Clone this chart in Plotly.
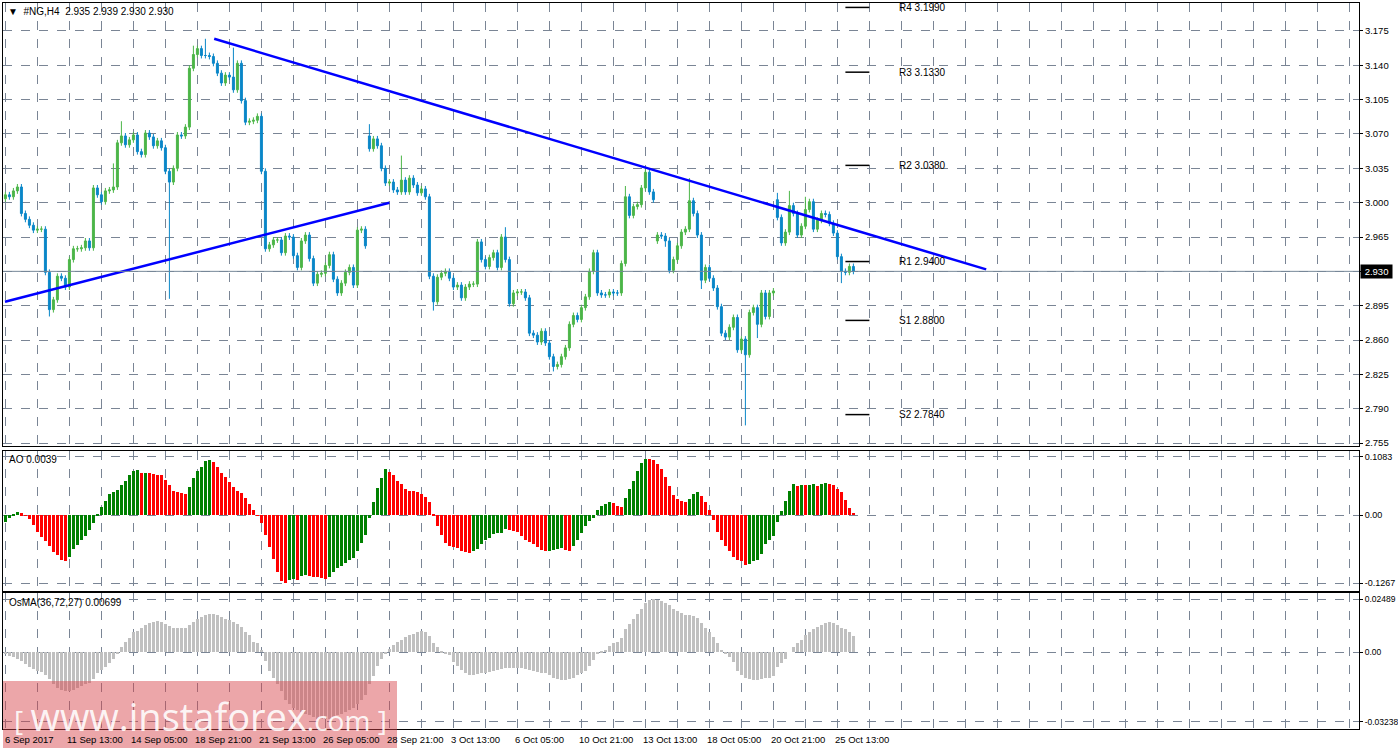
import plotly.graph_objects as go

# ---------------- data ----------------
close = [
3.008,3.006,3.012,3.016,2.989,2.983,2.977,2.972,2.973,2.973,
2.929,2.891,2.901,2.925,2.923,2.914,2.942,2.953,2.953,2.954,
2.961,2.954,3.015,3.008,3.001,3.012,3.013,3.016,3.061,3.068,
3.059,3.064,3.069,3.052,3.049,3.071,3.067,3.058,3.063,3.056,
3.032,3.021,3.035,3.069,3.068,3.077,3.137,3.151,3.157,3.150,
3.150,3.149,3.142,3.132,3.122,3.130,3.128,3.115,3.142,3.104,
3.082,3.083,3.084,3.088,3.032,2.953,2.957,2.962,2.962,2.949,
2.966,2.965,2.946,2.934,2.961,2.967,2.943,2.918,2.927,2.928,
2.936,2.947,2.922,2.908,2.918,2.929,2.934,2.916,2.972,2.973,
2.956,3.055,3.065,3.058,3.035,3.020,3.021,3.013,3.011,3.023,
3.011,3.025,3.018,3.010,3.014,3.006,2.925,2.899,2.924,2.928,
2.930,2.923,2.914,2.916,2.903,2.914,2.917,2.917,2.960,2.942,
2.935,2.944,2.949,2.934,2.965,2.942,2.897,2.908,2.909,2.909,
2.903,2.867,2.865,2.858,2.869,2.857,2.843,2.833,2.835,2.843,
2.852,2.876,2.885,2.881,2.893,2.904,2.930,2.949,2.908,2.906,
2.906,2.909,2.908,2.908,2.938,3.006,2.987,2.996,2.998,3.015,
3.031,3.011,3.003,2.967,2.966,2.961,2.931,2.942,2.956,2.970,
2.973,3.002,2.989,2.967,2.921,2.934,2.923,2.913,2.894,2.867,
2.863,2.873,2.883,2.850,2.861,2.845,2.888,2.893,2.876,2.908,
2.884,2.908,2.910,2.985,2.959,2.970,2.997,2.989,2.967,2.976,
2.993,3.001,2.973,2.982,2.989,2.988,2.979,2.969,2.945,2.930,
2.929,2.935,2.930]
open_gaps = {0: 3.004, 91: 3.068, 163: 2.961, 193: 3.003}
high_ext = {27: 3.040, 29: 3.083, 47: 3.160, 50: 3.167, 57: 3.158, 91: 3.080,
            99: 3.048, 125: 2.975, 155: 3.017, 160: 3.036, 171: 3.025,
            193: 3.010, 196: 3.012, 200: 3.006}
low_ext = {11: 2.884, 41: 2.902, 107: 2.890, 137: 2.828, 165: 2.955,
           174: 2.912, 185: 2.773, 188: 2.862, 209: 2.918}

ao = [
-0.012,-0.006,0.002,0.005,0.003,-0.001,-0.008,-0.018,-0.031,-0.040,
-0.049,-0.058,-0.069,-0.075,-0.083,-0.086,-0.078,-0.063,-0.056,-0.047,
-0.038,-0.028,-0.014,0.002,0.015,0.026,0.040,0.042,0.046,0.055,
0.064,0.074,0.082,0.083,0.078,0.079,0.079,0.077,0.075,0.074,
0.066,0.055,0.044,0.042,0.041,0.040,0.052,0.069,0.082,0.090,
0.100,0.102,0.098,0.090,0.079,0.070,0.061,0.052,0.045,0.041,
0.032,0.021,0.009,-0.001,-0.015,-0.037,-0.060,-0.082,-0.106,-0.123,
-0.126,-0.120,-0.119,-0.121,-0.113,-0.112,-0.113,-0.114,-0.115,-0.116,
-0.118,-0.115,-0.106,-0.099,-0.094,-0.089,-0.083,-0.080,-0.067,-0.052,
-0.037,-0.006,0.025,0.050,0.069,0.085,0.080,0.074,0.064,0.057,
0.049,0.045,0.044,0.043,0.039,0.034,0.025,0.002,-0.020,-0.037,
-0.051,-0.058,-0.060,-0.061,-0.066,-0.069,-0.071,-0.067,-0.063,-0.053,
-0.047,-0.042,-0.035,-0.034,-0.033,-0.026,-0.027,-0.029,-0.032,-0.039,
-0.046,-0.050,-0.053,-0.059,-0.064,-0.067,-0.066,-0.064,-0.063,-0.062,
-0.065,-0.066,-0.058,-0.046,-0.034,-0.021,-0.011,-0.005,0.009,0.017,
0.021,0.025,0.023,0.017,0.015,0.031,0.048,0.064,0.081,0.097,
0.105,0.104,0.102,0.095,0.086,0.070,0.054,0.037,0.029,0.026,
0.025,0.029,0.040,0.043,0.036,0.025,0.009,-0.010,-0.031,-0.046,
-0.058,-0.067,-0.077,-0.083,-0.086,-0.092,-0.090,-0.086,-0.083,-0.072,
-0.053,-0.046,-0.038,-0.013,0.007,0.026,0.044,0.058,0.054,0.055,
0.055,0.056,0.057,0.054,0.058,0.059,0.057,0.056,0.049,0.042,
0.028,0.014,0.0039]

osma = [  # x 1e-3
-0.8,-1.6,-2.1,-2.9,-4.0,-5.3,-6.6,-7.7,-8.5,-9.3,
-10.4,-12.5,-14.9,-16.5,-17.4,-17.8,-18.1,-17.3,-16.5,-15.7,
-14.9,-14.1,-12.2,-9.8,-8.2,-6.6,-5.0,-2.9,-0.8,2.7,
4.8,6.7,9.4,10.2,11.5,12.8,13.6,14.2,14.6,14.2,
13.1,12.3,11.2,11.2,11.2,11.2,12.8,14.2,15.5,16.6,
17.4,17.9,17.9,17.4,16.6,15.8,15.0,14.2,13.4,11.8,
9.6,8.0,4.8,4.3,1.1,-4.0,-8.8,-11.7,-14.9,-18.1,
-22.1,-24.2,-26.1,-26.9,-27.7,-28.5,-29.3,-30.1,-30.9,-30.9,
-30.9,-30.9,-30.1,-29.3,-28.5,-27.7,-26.9,-25.8,-24.2,-22.1,
-19.7,-14.9,-10.9,-6.1,-3.2,-0.8,1.4,3.5,4.8,5.9,
7.0,8.0,8.8,9.4,9.9,9.6,7.5,4.6,2.4,0.8,
-0.5,-1.3,-4.5,-6.1,-8.0,-9.8,-10.6,-10.6,-10.1,-9.8,
-9.8,-9.3,-8.5,-8.2,-7.7,-7.2,-7.2,-7.2,-7.2,-7.2,
-7.7,-8.0,-8.8,-9.3,-9.6,-9.6,-10.6,-11.7,-12.2,-12.8,
-12.8,-12.5,-11.7,-10.6,-9.8,-8.5,-6.1,-3.7,-0.8,0.3,
1.1,3.0,4.6,5.1,6.7,10.7,13.1,15.8,17.9,20.3,
23.0,24.6,25.0,24.6,24.0,23.2,21.9,20.3,19.2,18.4,
17.6,17.4,17.1,16.0,13.9,11.5,9.4,7.2,4.3,1.1,
-0.8,-2.1,-4.5,-8.5,-10.4,-12.0,-12.5,-12.8,-12.8,-12.5,
-12.0,-11.7,-10.9,-6.9,-5.0,-2.9,0.0,2.7,4.3,5.9,
8.0,9.4,10.7,11.8,12.8,13.9,14.2,13.9,12.8,11.5,
10.7,9.4,7.8]

date_labels = ["6 Sep 2017", "11 Sep 13:00", "14 Sep 05:00", "18 Sep 21:00",
               "21 Sep 13:00", "26 Sep 05:00", "28 Sep 21:00", "3 Oct 13:00",
               "6 Oct 05:00", "10 Oct 21:00", "13 Oct 13:00", "18 Oct 05:00",
               "20 Oct 21:00", "25 Oct 13:00"]
price_ticks = [3.175, 3.140, 3.105, 3.070, 3.035, 3.000, 2.965, 2.930, 2.895,
               2.860, 2.825, 2.790, 2.755]
pivot_names = ["R4", "R3", "R2", "R1", "S1", "S2"]
pivot_values = [3.1990, 3.1330, 3.0380, 2.9400, 2.8800, 2.7840]
trend1_x = [-0.1, 96.0]
trend1_y = [2.899, 3.000]
trend2_x = [52.2, 245.2]
trend2_y = [3.167, 2.932]
last_price = 2.930

# ---------------- build ----------------
n = len(close)
idx = list(range(n))
opens = [open_gaps.get(i, close[i - 1] if i > 0 else close[0]) for i in idx]
highs = [high_ext.get(i, max(opens[i], close[i]) + 0.003) for i in idx]
lows = [low_ext.get(i, min(opens[i], close[i]) - 0.003) for i in idx]

GREEN = "#4cb648"
BLUE = "#0a87c8"
GRID = "#7a8595"
XR = [-0.6, 338.4]
FONT = "Liberation Sans"
FS = 10
TFS = 9.5

fig = go.Figure()
fig.add_trace(go.Candlestick(
    x=idx, open=opens, high=highs, low=lows, close=close,
    increasing=dict(line=dict(color=GREEN, width=1), fillcolor=GREEN),
    decreasing=dict(line=dict(color=BLUE, width=1), fillcolor=BLUE),
    whiskerwidth=0, xaxis="x", yaxis="y", showlegend=False, hoverinfo="skip"))

fig.add_trace(go.Scatter(x=trend1_x, y=trend1_y, mode="lines",
                         line=dict(color="#0000ff", width=2.5),
                         xaxis="x", yaxis="y", showlegend=False))
fig.add_trace(go.Scatter(x=trend2_x, y=trend2_y, mode="lines",
                         line=dict(color="#0000ff", width=2.5),
                         xaxis="x", yaxis="y", showlegend=False))

ao_colors = ["#008000" if i == 0 or ao[i] > ao[i - 1] else "#ff0000" for i in range(len(ao))]
fig.add_trace(go.Bar(x=list(range(len(ao))), y=ao, marker=dict(color=ao_colors, line=dict(width=0)),
                     width=0.72, xaxis="x2", yaxis="y2", showlegend=False))
fig.add_trace(go.Bar(x=list(range(len(osma))), y=[v / 1000 for v in osma],
                     marker=dict(color="#c0c0c0", line=dict(width=0)),
                     width=0.72, xaxis="x3", yaxis="y3", showlegend=False))

H = 750.0
W = 1398.0
def dom(top, bot):
    return [1 - bot / H, 1 - top / H]

xdom = [3 / W, 1359 / W]
common_x = dict(range=XR, domain=xdom, showline=True, mirror=True, linecolor="black",
                linewidth=1, showgrid=True, gridcolor=GRID, griddash="dash", gridwidth=1,
                tick0=8, dtick=8, showticklabels=False, ticks="", zeroline=False,
                rangeslider=dict(visible=False), fixedrange=True, automargin=False)
common_y = dict(side="right", showline=True, mirror=True, linecolor="black", linewidth=1,
                ticks="outside", ticklen=3, tickcolor="black", automargin=False,
                showgrid=True, gridcolor=GRID, griddash="dash", zeroline=False)

fig.update_layout(
    width=1398, height=750, margin=dict(l=0, r=0, t=0, b=0, autoexpand=False),
    paper_bgcolor="white", plot_bgcolor="white", bargap=0,
    xaxis=dict(**common_x, anchor="y"),
    xaxis2=dict(**common_x, anchor="y2", matches="x"),
    xaxis3=dict(**common_x, anchor="y3", matches="x"),
    yaxis=dict(**common_y, domain=dom(3, 446), range=[2.752, 3.2035],
               tickfont=dict(family=FONT, size=TFS, color="black"),
               tickvals=price_ticks, ticktext=[f"{v:.3f}" for v in price_ticks], anchor="x"),
    yaxis2=dict(**common_y, domain=dom(451, 590.5), range=[-0.140, 0.119],
                tickfont=dict(family=FONT, size=9, color="black"),
                tickvals=[0.1083, 0.0, -0.1267], ticktext=["0.1083", "0.00", "-0.1267"],
                anchor="x2"),
    yaxis3=dict(**common_y, domain=dom(593, 729.3), range=[-0.0358, 0.0277],
                tickfont=dict(family=FONT, size=8.5, color="black"),
                tickvals=[0.02489, 0.0, -0.03238], ticktext=["0.02489", "0.00", "-0.03238"],
                anchor="x3"),
    font=dict(family=FONT, size=FS, color="black"),
)

# current price line
fig.add_shape(type="line", xref="x", yref="y", x0=XR[0], x1=XR[1], y0=last_price, y1=last_price,
              line=dict(color="#778899", width=1))
fig.add_annotation(xref="paper", yref="y", x=1360 / W, y=last_price, xanchor="left",
                   text=f" {last_price:.3f} ", showarrow=False, bgcolor="black",
                   font=dict(family=FONT, size=TFS, color="white"), borderpad=1)

# pivot levels
for name, v in zip(pivot_names, pivot_values):
    fig.add_shape(type="line", xref="x", yref="y", x0=210, x1=216, y0=v, y1=v,
                  line=dict(color="black", width=1.5))
    fig.add_annotation(xref="x", yref="y", x=223, y=v, xanchor="left", yanchor="middle",
                       text=f"{name} {v:.4f}", showarrow=False,
                       font=dict(family=FONT, size=FS, color="black"))

# date labels
for j, lab in enumerate(date_labels):
    px = 3.3 + 4 * (j * 16) - 2
    fig.add_annotation(xref="paper", yref="paper", x=max(px, 3) / W, y=1 - 739 / H,
                       xanchor="left", yanchor="middle", text=lab, showarrow=False,
                       font=dict(family=FONT, size=TFS, color="black"))

# headers
fig.add_annotation(xref="paper", yref="paper", x=6 / W, y=1 - 11 / H, xanchor="left",
                   yanchor="middle", text="▼  #NG,H4  2.935 2.939 2.930 2.930", showarrow=False,
                   font=dict(family=FONT, size=FS, color="black"))
fig.add_annotation(xref="paper", yref="paper", x=7 / W, y=1 - 459 / H, xanchor="left",
                   yanchor="middle", text=f"AO {ao[-1]:.4f}", showarrow=False,
                   font=dict(family=FONT, size=FS, color="black"))
fig.add_annotation(xref="paper", yref="paper", x=7 / W, y=1 - 602 / H, xanchor="left",
                   yanchor="middle", text="OsMA(36,72,27) 0.00699", showarrow=False,
                   font=dict(family=FONT, size=FS, color="black"))

# watermark
fig.add_shape(type="rect", xref="paper", yref="paper", x0=3 / W, x1=397 / W,
              y0=1 - 748 / H, y1=1 - 681 / H, fillcolor="rgba(215,70,75,0.48)",
              line=dict(width=0), layer="above")
fig.add_annotation(xref="paper", yref="paper", x=200 / W, y=1 - 716 / H,
                   xanchor="center", yanchor="middle", showarrow=False,
                   text="[ <span style='font-size:38px'>www.instaforex</span>.com ]",
                   font=dict(family="Open Sans", size=28, color="rgba(255,255,255,0.9)"))

fig.write_html("out.html", config={"displayModeBar": False},
               post_script="document.body.style.margin='0';document.body.style.overflow='hidden';")
